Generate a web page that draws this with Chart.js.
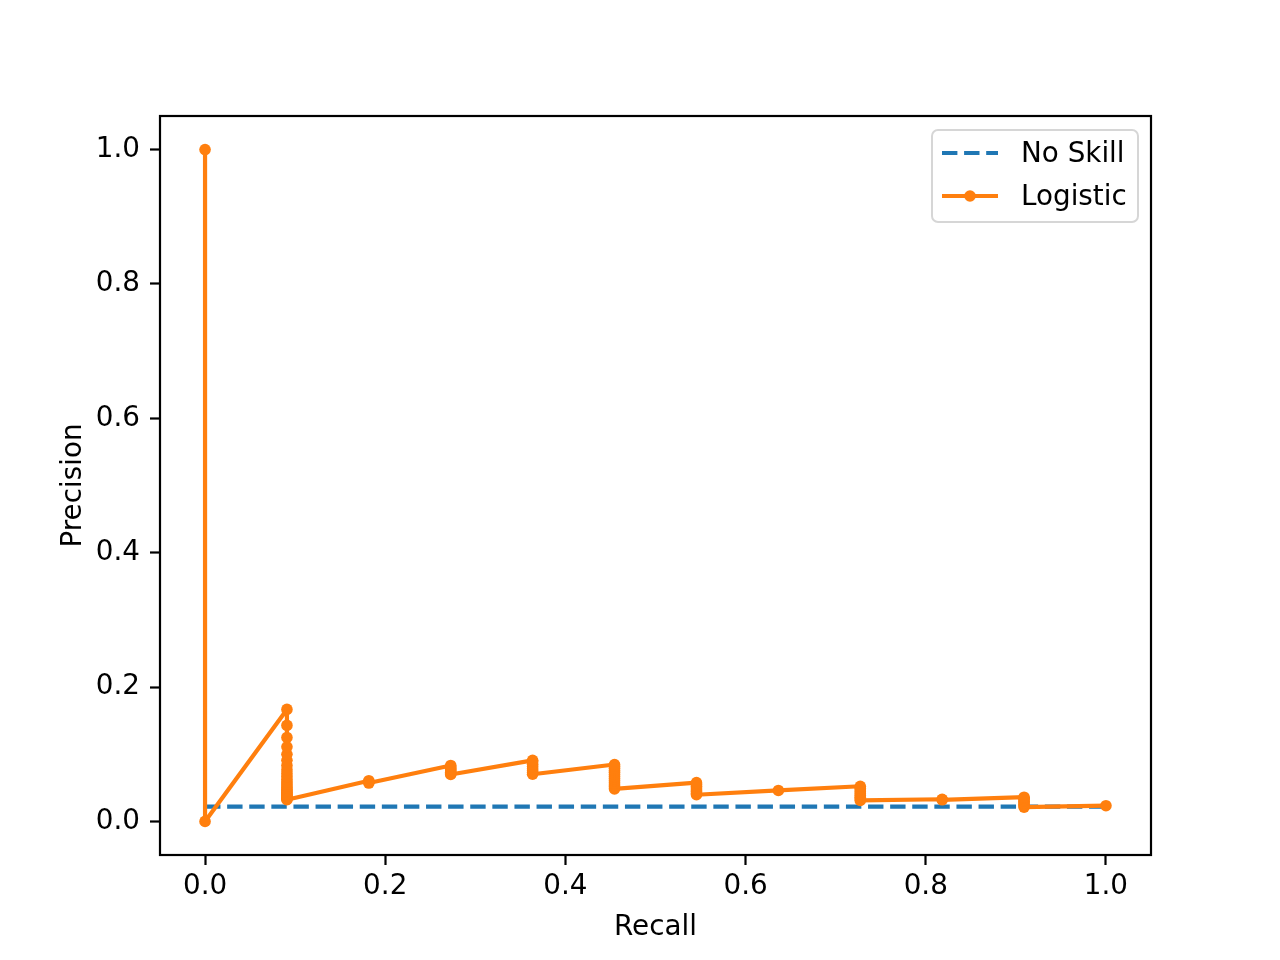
<!DOCTYPE html>
<html>
<head>
<meta charset="utf-8">
<script src="https://cdn.jsdelivr.net/npm/chart.js@4/dist/chart.umd.min.js"></script>
<style>
  html, body { margin: 0; padding: 0; background: #fff; }
  canvas { display: block; }
</style>
</head>
<body>
<canvas id="pr" width="1280" height="960"></canvas>
<script>
// recall levels in plotting order (as returned by precision_recall_curve)
const recallSteps = [1.0, 0.9091, 0.8182, 0.7273, 0.6364, 0.5455, 0.4545, 0.3636, 0.2727, 0.1818, 0.0909, 0.0];
// precision values read at each recall level
const precisionSteps = [
    [0.0234],
    [0.0213, 0.0232, 0.0254, 0.0277, 0.0301, 0.0323, 0.0345, 0.0360],
    [0.0322, 0.0330],
    [0.0313, 0.0336, 0.0359, 0.0385, 0.0412, 0.0440, 0.0468, 0.0495, 0.0523],
    [0.0461],
    [0.0397, 0.0420, 0.0444, 0.0469, 0.0496, 0.0522, 0.0550, 0.0577],
    [0.0485, 0.0515, 0.0543, 0.0575, 0.0606, 0.0637, 0.0667, 0.0698, 0.0730, 0.0758, 0.0790, 0.0820, 0.0847],
    [0.0702, 0.0727, 0.0755, 0.0784, 0.0816, 0.0851, 0.0889, 0.0909],
    [0.0698, 0.0714, 0.0732, 0.0750, 0.0769, 0.0789, 0.0811, 0.0833],
    [0.0571, 0.0588, 0.0606],
    [0.0323, 0.0333, 0.0345, 0.0357, 0.0370, 0.0385, 0.0400, 0.0417, 0.0435, 0.0455, 0.0476, 0.0500, 0.0526,
     0.0556, 0.0588, 0.0625, 0.0667, 0.0714, 0.0769, 0.0833, 0.0909, 0.1000, 0.1111, 0.1250, 0.1429, 0.1667],
    [0.0, 1.0]
];
const noSkillRecall = [0, 1];
const noSkillPrecision = [0.022, 0.022];
const xTicks = [0.0, 0.2, 0.4, 0.6, 0.8, 1.0];
const yTicks = [0.0, 0.2, 0.4, 0.6, 0.8, 1.0];

const BLUE = '#1f77b4';
const ORANGE = '#ff7f0e';
const FONT = 'DejaVu Sans';
const FS = 27.8;

const logisticPts = [];
recallSteps.forEach((r, i) => {
    precisionSteps[i].forEach(p => logisticPts.push({x: r, y: p}));
});
const noSkillPts = noSkillRecall.map((r, i) => ({x: r, y: noSkillPrecision[i]}));

// axes frame + legend drawn like matplotlib
const mplFrame = {
    id: 'mplFrame',
    afterDraw(chart) {
        const {ctx, chartArea: a} = chart;
        ctx.save();
        ctx.strokeStyle = '#000';
        ctx.lineWidth = 2.2;
        ctx.strokeRect(a.left, a.top, a.right - a.left, a.bottom - a.top);

        // legend
        const bx = a.right - 219, by = a.top + 14, bw = 206, bh = 92, rad = 6;
        ctx.beginPath();
        ctx.roundRect(bx, by, bw, bh, rad);
        ctx.fillStyle = 'rgba(255,255,255,0.8)';
        ctx.fill();
        ctx.strokeStyle = '#d6d6d6';
        ctx.lineWidth = 2;
        ctx.stroke();

        const lx0 = bx + 10, lx1 = bx + 66;
        const row1 = by + 23, row2 = by + 66;
        ctx.lineWidth = 4.2;
        ctx.strokeStyle = BLUE;
        ctx.setLineDash([15.4, 6.7]);
        ctx.beginPath();
        ctx.moveTo(lx0, row1);
        ctx.lineTo(lx1, row1);
        ctx.stroke();
        ctx.setLineDash([]);
        ctx.strokeStyle = ORANGE;
        ctx.beginPath();
        ctx.moveTo(lx0, row2);
        ctx.lineTo(lx1, row2);
        ctx.stroke();
        ctx.fillStyle = ORANGE;
        ctx.beginPath();
        ctx.arc((lx0 + lx1) / 2, row2, 5.8, 0, Math.PI * 2);
        ctx.fill();

        ctx.fillStyle = '#000';
        ctx.font = FS + 'px "' + FONT + '"';
        ctx.textBaseline = 'middle';
        ctx.textAlign = 'left';
        ctx.fillText('No Skill', bx + 89, row1 + 2);
        ctx.fillText('Logistic', bx + 89, row2 + 2);
        ctx.restore();
    }
};

Chart.defaults.color = '#000';
Chart.defaults.font.family = FONT;
Chart.defaults.font.size = FS;

const ctx = document.getElementById('pr').getContext('2d');
const chart = new Chart(ctx, {
    type: 'scatter',
    data: {
        datasets: [{
            label: 'No Skill',
            data: noSkillPts,
            showLine: true,
            borderColor: BLUE,
            borderWidth: 4.2,
            borderDash: [15.4, 6.7],
            pointRadius: 0,
            order: 1
        }, {
            label: 'Logistic',
            data: logisticPts,
            showLine: true,
            borderColor: ORANGE,
            borderWidth: 4.2,
            borderJoinStyle: 'round',
            backgroundColor: ORANGE,
            pointBackgroundColor: ORANGE,
            pointBorderWidth: 0,
            pointRadius: 5.8,
            pointHoverRadius: 5.8,
            order: 0
        }]
    },
    options: {
        responsive: false,
        devicePixelRatio: 1,
        animation: false,
        layout: {
            padding: {left: 0, right: 129, top: 116, bottom: 0}
        },
        plugins: {
            legend: {display: false},
            tooltip: {enabled: false}
        },
        scales: {
            x: {
                type: 'linear',
                min: -0.05,
                max: 1.05,
                afterBuildTicks: s => { s.ticks = xTicks.map(v => ({value: v})); },
                afterFit: s => { s.height = 105; },
                ticks: {
                    padding: 5,
                    maxRotation: 0,
                    callback: v => v.toFixed(1)
                },
                grid: {drawOnChartArea: false, drawTicks: true, tickLength: 10, tickWidth: 2.2, tickColor: '#000'},
                border: {display: false},
                title: {display: true, text: 'Recall', padding: {top: 0, bottom: 16}}
            },
            y: {
                type: 'linear',
                min: -0.05,
                max: 1.05,
                afterBuildTicks: s => { s.ticks = yTicks.map(v => ({value: v})); },
                afterFit: s => { s.width = 160; },
                ticks: {
                    padding: 10,
                    callback: v => v.toFixed(1)
                },
                grid: {drawOnChartArea: false, drawTicks: true, tickLength: 10, tickWidth: 2.2, tickColor: '#000'},
                border: {display: false},
                title: {display: true, text: 'Precision', padding: {top: 57, bottom: 0}}
            }
        }
    },
    plugins: [mplFrame]
});
</script>
</body>
</html>
